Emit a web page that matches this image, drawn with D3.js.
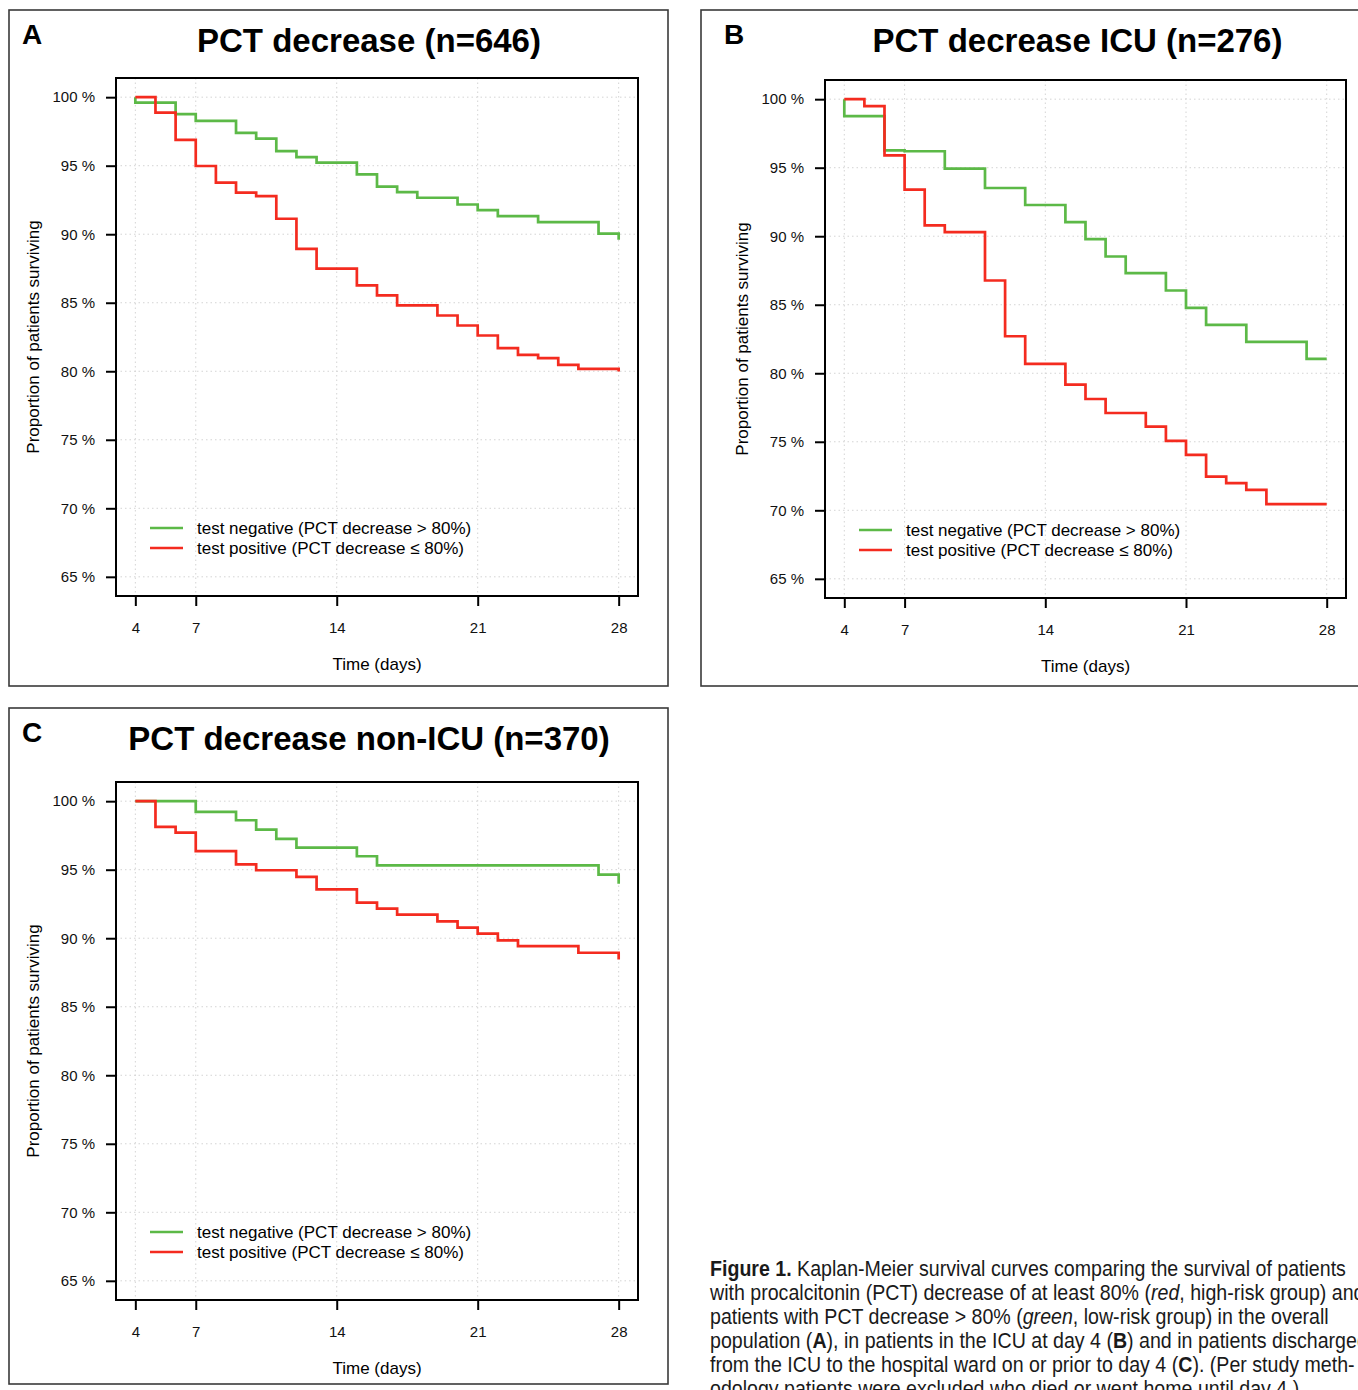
<!DOCTYPE html>
<html>
<head>
<meta charset="utf-8">
<script src="https://cdn.jsdelivr.net/npm/d3@7"></script>
<style>
  body { margin: 0; background: #fff; overflow: hidden; }
  svg { display: block; font-family: "Liberation Sans", Arial, Helvetica, sans-serif; }
</style>
</head>
<body>
<svg width="1358" height="1390"></svg>
<script>
// survival (%), day of each step
const aNegDays = [4, 4, 6, 7, 9, 10, 11, 12, 13, 15, 16, 17, 18, 20, 21, 22, 24, 27, 28];
const aNegSurv = [100, 99.6, 98.76, 98.27, 97.4, 96.97, 96.07, 95.63, 95.22, 94.37, 93.47, 93.07, 92.66, 92.17, 91.76, 91.32, 90.88, 90.05, 89.6];
const aPosDays = [4, 5, 6, 7, 8, 9, 10, 11, 12, 13, 15, 16, 17, 19, 20, 21, 22, 23, 24, 25, 26, 28];
const aPosSurv = [100, 98.88, 96.88, 94.98, 93.76, 93.03, 92.78, 91.13, 88.93, 87.49, 86.27, 85.54, 84.81, 84.07, 83.34, 82.61, 81.69, 81.2, 80.96, 80.47, 80.18, 79.98];

const bNegDays = [4, 4, 6, 7, 9, 11, 13, 15, 16, 17, 18, 20, 21, 22, 24, 27, 28];
const bNegSurv = [100, 98.76, 96.27, 96.2, 94.93, 93.52, 92.28, 91.03, 89.79, 88.52, 87.3, 86.04, 84.77, 83.53, 82.29, 81.05, 81.05];
const bPosDays = [4, 5, 6, 7, 8, 9, 11, 12, 13, 15, 16, 17, 19, 20, 21, 22, 23, 24, 25, 28];
const bPosSurv = [100, 99.49, 95.9, 93.4, 90.79, 90.3, 86.77, 82.7, 80.68, 79.17, 78.12, 77.1, 76.1, 75.07, 74.05, 72.46, 71.98, 71.49, 70.45, 70.45];

const cNegDays = [4, 7, 9, 10, 11, 12, 15, 16, 27, 28];
const cNegSurv = [100, 99.22, 98.61, 97.93, 97.25, 96.61, 95.98, 95.32, 94.64, 93.98];
const cPosDays = [4, 5, 6, 7, 9, 10, 12, 13, 15, 16, 17, 19, 20, 21, 22, 23, 26, 28];
const cPosSurv = [100, 98.12, 97.71, 96.35, 95.39, 94.96, 94.47, 93.57, 92.6, 92.16, 91.72, 91.23, 90.77, 90.33, 89.84, 89.42, 88.94, 88.45];

const panelLetters = ['A', 'B', 'C'];
const panelTitles = ['PCT decrease (n=646)', 'PCT decrease ICU (n=276)', 'PCT decrease non-ICU (n=370)'];
const xTicks = [4, 7, 14, 21, 28];
const yTicks = [65, 70, 75, 80, 85, 90, 95, 100];
const legendLabels = ['test negative (PCT decrease > 80%)', 'test positive (PCT decrease \u2264 80%)'];

const green = '#5cb947';
const red = '#f42b1f';

const svg = d3.select('svg');

const panels = [
  { left: 9, top: 10, letterX: 22, plot: [116, 78, 638, 596], neg: [aNegDays, aNegSurv], pos: [aPosDays, aPosSurv] },
  { left: 701, top: 10, letterX: 724, plot: [825, 80, 1346, 598], neg: [bNegDays, bNegSurv], pos: [bPosDays, bPosSurv] },
  { left: 9, top: 708, letterX: 22, plot: [116, 782, 638, 1300], neg: [cNegDays, cNegSurv], pos: [cPosDays, cPosSurv] },
];

const toPoints = (days, surv) => days.map((d, i) => [d, surv[i]]);

panels.forEach((p, i) => {
  const [x0, y0, x1, y1] = p.plot;
  const g = svg.append('g');

  // outer frame of the panel
  g.append('rect')
    .attr('x', p.left).attr('y', p.top)
    .attr('width', 659).attr('height', 676)
    .attr('fill', 'none').attr('stroke', '#3a3a3a').attr('stroke-width', 1.6);

  g.append('text')
    .attr('x', p.letterX).attr('y', p.top + 34)
    .attr('font-size', 28).attr('font-weight', 'bold')
    .text(panelLetters[i]);

  g.append('text')
    .attr('x', (x0 + x1) / 2 - 8).attr('y', p.top + 42)
    .attr('text-anchor', 'middle')
    .attr('font-size', 33).attr('font-weight', 'bold')
    .text(panelTitles[i]);

  // R style axes: 4% padding around the data range
  const xScale = d3.scaleLinear().domain([3.04, 28.96]).range([x0, x1]);
  const yScale = d3.scaleLinear().domain([63.6, 101.4]).range([y1, y0]);

  const grid = g.append('g')
    .attr('stroke', '#d4d4d4').attr('stroke-width', 1).attr('stroke-dasharray', '1.5,3');
  grid.selectAll('.gx').data(xTicks).enter().append('line')
    .attr('x1', (d) => xScale(d)).attr('x2', (d) => xScale(d))
    .attr('y1', y0).attr('y2', y1);
  grid.selectAll('.gy').data(yTicks).enter().append('line')
    .attr('x1', x0).attr('x2', x1)
    .attr('y1', (d) => yScale(d)).attr('y2', (d) => yScale(d));

  const xAxis = d3.axisBottom(xScale).tickValues(xTicks).tickSize(10).tickPadding(16).tickSizeOuter(0);
  const yAxis = d3.axisLeft(yScale).tickValues(yTicks).tickSize(10).tickPadding(11).tickSizeOuter(0)
    .tickFormat((d) => d + ' %');

  const gx = g.append('g').attr('transform', 'translate(0,' + y1 + ')').call(xAxis);
  const gy = g.append('g').attr('transform', 'translate(' + x0 + ',0)').call(yAxis);
  [gx, gy].forEach((ax) => {
    ax.select('.domain').remove();
    ax.selectAll('line').attr('stroke', '#000').attr('stroke-width', 2);
    ax.selectAll('text').attr('font-size', 15).attr('fill', '#111')
      .attr('font-family', '"Liberation Sans", Arial, sans-serif');
  });

  g.append('text')
    .attr('x', (x0 + x1) / 2).attr('y', y1 + 74)
    .attr('text-anchor', 'middle').attr('font-size', 17)
    .text('Time (days)');

  g.append('text')
    .attr('transform', 'translate(' + (x0 - 77) + ',' + (y0 + y1) / 2 + ') rotate(-90)')
    .attr('text-anchor', 'middle').attr('font-size', 17)
    .text('Proportion of patients surviving');

  const line = d3.line()
    .x((d) => xScale(d[0]))
    .y((d) => yScale(d[1]))
    .curve(d3.curveStepAfter);

  g.append('path')
    .datum(toPoints(p.neg[0], p.neg[1]))
    .attr('d', line)
    .attr('fill', 'none').attr('stroke', green).attr('stroke-width', 2.7);
  g.append('path')
    .datum(toPoints(p.pos[0], p.pos[1]))
    .attr('d', line)
    .attr('fill', 'none').attr('stroke', red).attr('stroke-width', 2.7);

  // legend
  [green, red].forEach((c, k) => {
    const ly = y0 + 450 + k * 20;
    g.append('line')
      .attr('x1', x0 + 34).attr('x2', x0 + 67)
      .attr('y1', ly).attr('y2', ly)
      .attr('stroke', c).attr('stroke-width', 2.7);
    g.append('text')
      .attr('x', x0 + 81).attr('y', ly).attr('dy', '0.36em')
      .attr('font-size', 17)
      .text(legendLabels[k]);
  });

  g.append('rect')
    .attr('x', x0).attr('y', y0)
    .attr('width', x1 - x0).attr('height', y1 - y0)
    .attr('fill', 'none').attr('stroke', '#000').attr('stroke-width', 2);
});

// figure caption, cut at the page edge like the source
const captionLines = [
  [['Figure 1.', 'b'], [' Kaplan-Meier survival curves comparing the survival of patients', '']],
  [['with procalcitonin (PCT) decrease of at least 80% (', ''], ['red', 'i'], [', high-risk group) and', '']],
  [['patients with PCT decrease > 80% (', ''], ['green', 'i'], [', low-risk group) in the overall', '']],
  [['population (', ''], ['A', 'b'], ['), in patients in the ICU at day 4 (', ''], ['B', 'b'], [') and in patients discharged', '']],
  [['from the ICU to the hospital ward on or prior to day 4 (', ''], ['C', 'b'], ['). (Per study meth-', '']],
  [['odology patients were excluded who died or went home until day 4.)', '']],
];

const cap = svg.append('g');
const capText = cap.append('text').attr('font-size', 22).attr('fill', '#1a1a1a');
captionLines.forEach((parts, li) => {
  parts.forEach((part, pi) => {
    const t = capText.append('tspan').text(part[0]);
    if (pi === 0) t.attr('x', 0).attr('y', li * 24);
    if (part[1] === 'b') t.attr('font-weight', 'bold');
    if (part[1] === 'i') t.attr('font-style', 'italic');
  });
});
// squeeze horizontally so the first line spans the same width as the source
const firstLen = d3.sum(capText.selectAll('tspan').nodes().slice(0, 2), (n) => n.getComputedTextLength());
const sx = 636 / firstLen;
cap.attr('transform', 'translate(710,1276) scale(' + sx + ',1)');
</script>
</body>
</html>
